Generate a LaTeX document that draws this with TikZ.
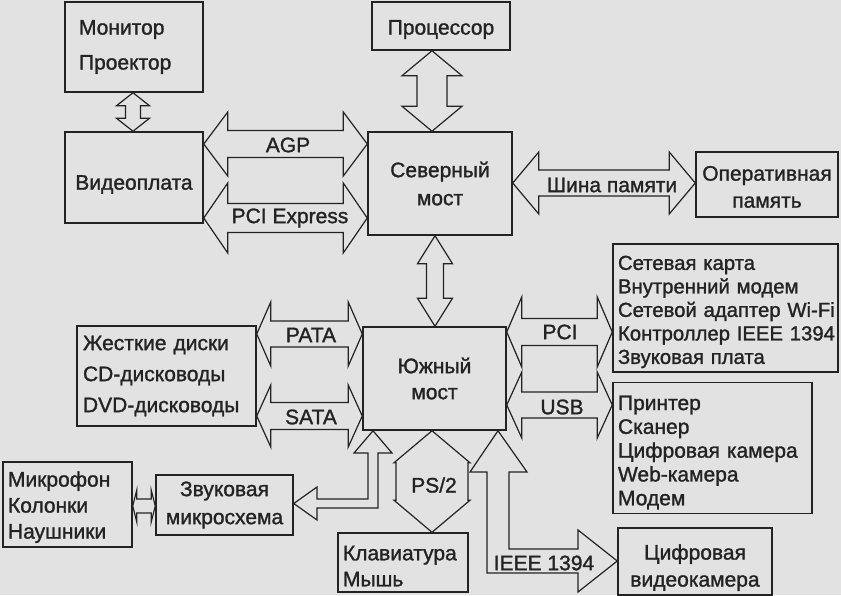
\documentclass[tikz,border=0pt]{standalone}
\usepackage{fontspec}
\setmainfont{Liberation Sans}[RawFeature={embolden=1.3}]
\usetikzlibrary{calc}
\definecolor{ink}{RGB}{35,35,35}
\definecolor{paper}{RGB}{226,226,226}
\newcommand\up[1]{\rule{0pt}{#1pt}}
\tikzset{
  box/.style={draw=ink, line width=1.5pt, text=ink, inner sep=4pt, font=\fontsize{21}{24}\selectfont},
  ls/.style={font=\fontsize{21}{#1}\selectfont},
  barrow/.style={draw=ink, line width=1.2pt, line join=miter, fill=paper},
  lbl/.style={text=ink, inner sep=1pt, font=\fontsize{21}{24}\selectfont},
}
% horizontal double block arrow: #1 left anchor, #2 right anchor, #3 y, #4 head half, #5 shaft half, #6 head length
\newcommand\hdbl[6]{%
  \coordinate (hdL) at (#1 |- 0,#3);
  \coordinate (hdR) at (#2 |- 0,#3);
  \draw[barrow] (hdL) -- ($(hdL)+(#6,#4)$) -- ($(hdL)+(#6,#5)$) -- ($(hdR)+(-#6,#5)$)
    -- ($(hdR)+(-#6,#4)$) -- (hdR) -- ($(hdR)+(-#6,-#4)$) -- ($(hdR)+(-#6,-#5)$)
    -- ($(hdL)+(#6,-#5)$) -- ($(hdL)+(#6,-#4)$) -- cycle;}
% vertical double block arrow: #1 top anchor, #2 bottom anchor, #3 x, #4 head half, #5 shaft half, #6 head length
\newcommand\vdbl[6]{%
  \coordinate (vdT) at (#3,0 |- #1);
  \coordinate (vdB) at (#3,0 |- #2);
  \draw[barrow] (vdT) -- ($(vdT)+(#4,#6)$) -- ($(vdT)+(#5,#6)$) -- ($(vdB)+(#5,-#6)$)
    -- ($(vdB)+(#4,-#6)$) -- (vdB) -- ($(vdB)+(-#4,-#6)$) -- ($(vdB)+(-#5,-#6)$)
    -- ($(vdT)+(-#5,#6)$) -- ($(vdT)+(-#4,#6)$) -- cycle;}
\begin{document}
\begin{tikzpicture}[x=1pt,y=-1pt]
\useasboundingbox (0,0) rectangle (841,595);
\fill[paper] (0,0) rectangle (841,595);

% boxes
\node[box, minimum width=138pt, minimum height=90pt, text width=110pt, inner xsep=14pt, align=left, ls=35] (mon) at (134,47) {Монитор\\Проектор};
\node[box, minimum width=138pt, minimum height=48pt, align=center] (cpu) at (441,26) {\up{21.5}Процессор};
\node[box, minimum width=138pt, minimum height=91pt, align=center] (video) at (134,177.5) {\up{28.5}Видеоплата};
\node[box, minimum width=144pt, minimum height=103pt, align=center, ls=28] (north) at (440,183.5) {Северный\\мост};
\node[box, minimum width=142pt, minimum height=65pt, align=center, ls=27] (ram) at (767,184.5) {\up{19.5}Оперативная\\память};
\node[box, minimum height=128pt, text width=215pt, inner xsep=5pt, align=left, font=\fontsize{20.3}{23.5}\selectfont] (net) at (725.5,308)
  {\up{22}\mbox{Сетевая карта}\\\mbox{Внутренний модем}\\\mbox{Сетевой адаптер Wi-Fi}\\\mbox{Контроллер IEEE 1394}\\\mbox{Звуковая плата}};
\node[box, minimum height=130pt, text width=189pt, inner xsep=5pt, align=left, ls=23.8] (prn) at (712.5,448)
  {\up{23.5}\mbox{Принтер}\\\mbox{Сканер}\\\mbox{Цифровая камера}\\\mbox{Web-камера}\\\mbox{Модем}};
\node[box, minimum width=154pt, minimum height=57pt, align=center, ls=27] (camc) at (695,561.5) {\up{27.5}Цифровая\\видеокамера};
\node[box, minimum width=143pt, minimum height=103pt, align=center, ls=26] (south) at (434.5,378.5) {Южный\\мост};
\node[box, minimum height=100pt, text width=167pt, inner xsep=6pt, align=left, ls=31] (drives) at (166.5,376)
  {\mbox{Жесткие диски}\\\mbox{CD-дисководы}\\\mbox{DVD-дисководы}};
\node[box, minimum height=85pt, text width=119pt, inner xsep=5pt, align=left, ls=26] (mic) at (67.5,504.5) {\up{20.5}Микрофон\\Колонки\\Наушники};
\node[box, minimum width=137pt, minimum height=60pt, align=center, ls=28] (sound) at (224.5,505) {Звуковая\\микросхема};
\node[box, minimum height=59pt, text width=120pt, inner xsep=5pt, align=left, ls=26] (kbd) at (403,562.5) {\up{21.5}Клавиатура\\Мышь};

% block arrows
\vdbl{mon.south}{video.north}{133}{16.5}{7.5}{13}
\vdbl{cpu.south}{north.north}{432}{30}{15}{25}
\hdbl{video.east}{north.west}{144}{32}{13.5}{24}
\hdbl{video.east}{north.west}{218}{35}{14.5}{24}
\hdbl{north.east}{ram.west}{183}{31}{13}{26}
\vdbl{north.south}{south.north}{435}{17.5}{8.5}{28}
\hdbl{drives.east}{south.west}{334}{32}{13}{14}
\hdbl{drives.east}{south.west}{416}{31}{13.5}{14}
\hdbl{south.east}{net.west}{332}{35}{13.5}{15}
\hdbl{south.east}{prn.west}{405}{33}{13}{15}
\vdbl{south.south}{kbd.north}{432}{38}{36}{32}
\hdbl{mic.east}{sound.west}{506}{16}{7}{4}

% L-shaped arrow to the sound chip
\coordinate (sT) at (373,0 |- south.south);
\coordinate (sL) at (sound.east |- 0,503.5);
\draw[barrow] (sT) -- (392,453) -- (378,453) -- (378,508) -- (317,508) -- (317,520) -- (sL)
  -- (317,487) -- (317,499) -- (368,499) -- (368,453) -- (354,453) -- cycle;

% L-shaped IEEE 1394 arrow
\coordinate (iT) at (498,0 |- south.south);
\coordinate (iR) at (camc.west |- 0,561);
\draw[barrow] (iT) -- (527,472) -- (509,472) -- (509,549) -- (578,549) -- (578,530) -- (iR)
  -- (578,592) -- (578,573) -- (487,573) -- (487,472) -- (470,472) -- cycle;

% labels
\node[lbl] (lagp) at (288,145) {AGP};
\node[lbl] (lpcie) at (290,218) {PCI Express};
\node[lbl] (lmem) at (612,185) {Шина памяти};
\node[lbl] (lpata) at (311,335) {PATA};
\node[lbl] (lsata) at (311,417) {SATA};
\node[lbl] (lpci) at (560,332) {PCI};
\node[lbl] (lusb) at (562,407) {USB};
\node[lbl] (lps) at (434,485) {PS/2};
\node[lbl] (lieee) at (544,563) {IEEE 1394};
\end{tikzpicture}
\end{document}
